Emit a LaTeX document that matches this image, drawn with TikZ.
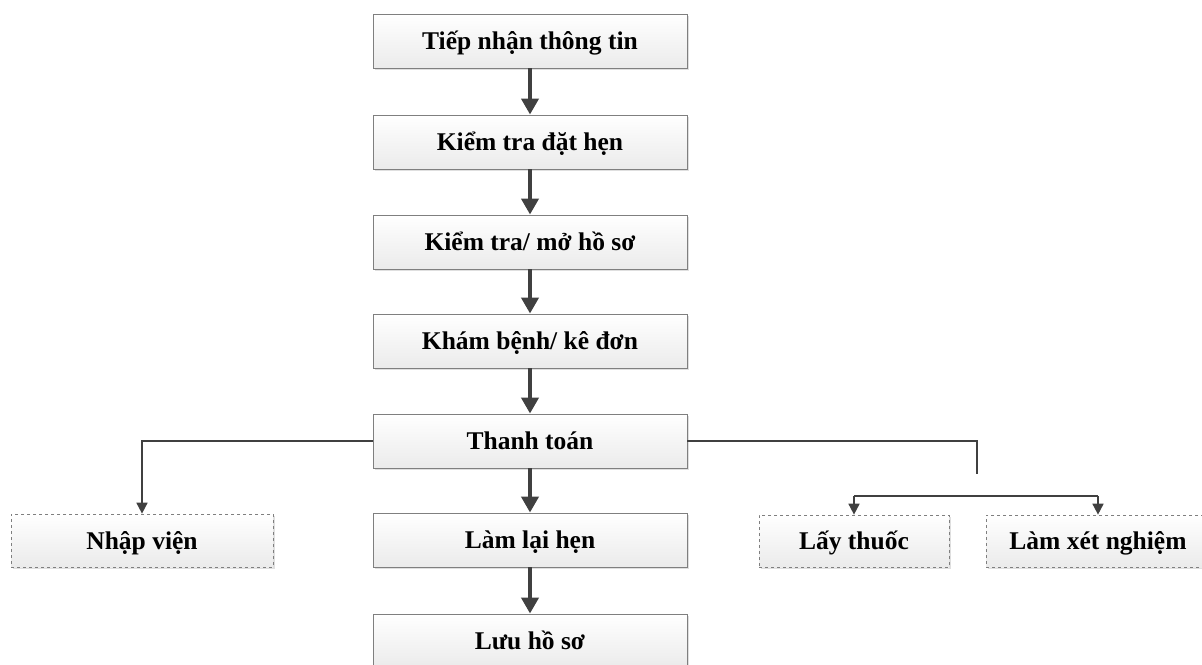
\documentclass[tikz,border=0pt]{standalone}
\usepackage{fontspec}
\setmainfont{Liberation Serif}
\usetikzlibrary{arrows.meta,shadows}
\definecolor{linegray}{HTML}{404040}
\definecolor{edgegray}{HTML}{7F7F7F}
\tikzset{
  stepbox/.style={draw=edgegray, line width=0.9pt, top color=white, bottom color=black!8,
    drop shadow={shadow xshift=2pt, shadow yshift=-2pt, fill=black!25, opacity=0.5},
    minimum width=314pt, minimum height=54pt, inner sep=0pt,
    text height=20pt, text depth=3pt,
    font=\fontsize{25.5}{30}\selectfont\bfseries},
  sidebox/.style={stepbox, dashed, line width=0.7pt, minimum height=53pt},
  mainarrow/.style={draw=linegray, line width=4.5pt, -{Triangle[width=17pt,length=16pt]}},
  sidearrow/.style={draw=linegray, line width=1.7pt, -{Triangle[width=11pt,length=11pt]}},
  sideline/.style={draw=linegray, line width=1.7pt}
}
\begin{document}
\begin{tikzpicture}[x=1pt,y=-1pt]
  \useasboundingbox (0,0) rectangle (1202,664);
  \begin{scope}
  \clip (0,0) rectangle (1202,664);
  % main column
  \node[stepbox] (recv)  at (530,41)  {Tiếp nhận thông tin};
  \node[stepbox] (check) at (530,142) {Kiểm tra đặt hẹn};
  \node[stepbox] (file)  at (530,242) {Kiểm tra/ mở hồ sơ};
  \node[stepbox] (exam)  at (530,341) {Khám bệnh/ kê đơn};
  \node[stepbox] (pay)   at (530,441) {Thanh toán};
  \node[stepbox] (rebook) at (530,540) {Làm lại hẹn};
  \node[stepbox] (store) at (530,641) {Lưu hồ sơ};
  % side branches
  \node[sidebox, minimum width=262pt] (admit) at (142,540.5) {Nhập viện};
  \node[sidebox, minimum width=190pt, minimum height=52pt] (drug) at (854,541) {Lấy thuốc};
  \node[sidebox, minimum width=224pt, minimum height=52pt] (test) at (1098,541) {Làm xét nghiệm};
  \end{scope}
  % main flow
  \draw[mainarrow] (recv) -- (check);
  \draw[mainarrow] (check) -- (file);
  \draw[mainarrow] (file) -- (exam);
  \draw[mainarrow] (exam) -- (pay);
  \draw[mainarrow] (pay) -- (rebook);
  \draw[mainarrow] (rebook) -- (store);
  % branches from payment
  \coordinate (rstub) at (977,474);
  \coordinate (bar) at (977,496);
  \draw[sidearrow] (pay.west) -| (admit.north);
  \draw[sideline] (pay.east) -| (rstub);
  \draw[sideline] (drug.north |- bar) -- (test.north |- bar);
  \draw[sidearrow] (drug.north |- bar) -- (drug.north);
  \draw[sidearrow] (test.north |- bar) -- (test.north);
\end{tikzpicture}
\end{document}
